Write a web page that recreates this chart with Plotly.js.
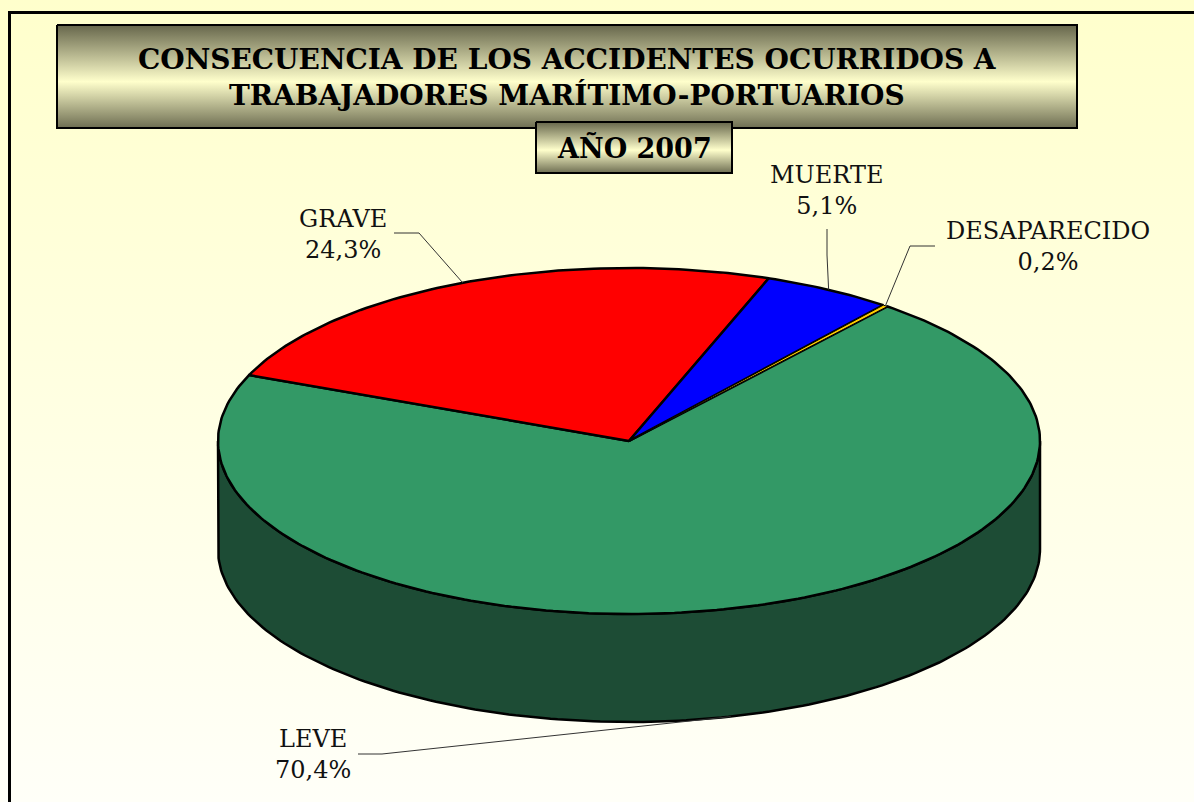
<!DOCTYPE html>
<html lang="es">
<head>
    <meta charset="UTF-8">
    <title>Consecuencia de los accidentes 2007</title>
    <script src="https://cdn.plot.ly/plotly-3.0.1.min.js"></script>
    <style>
        body { margin: 0; background: #ffffff; }
        #chart { width: 1194px; height: 802px; }
    </style>
</head>
<body>
<div id="chart"></div>
<script>
    // data
    const categories = ['GRAVE', 'MUERTE', 'DESAPARECIDO', 'LEVE'];
    const percents = [24.3, 5.1, 0.2, 70.4];
    const percentLabels = ['24,3%', '5,1%', '0,2%', '70,4%'];

    const topColors = ['#FF0000', '#0000FF', '#FFCC00', '#339966'];
    const sideColors = ['#800000', '#000080', '#806600', '#1D4C35'];

    // pie geometry (pixels, y grows downwards)
    const CX = 629, CY = 441, RX = 411, RY = 173, DEPTH = 108;
    const START = 157.6;   // first slice starts here, slices go clockwise

    // label placement: text centre, elbow start, elbow end
    const labelPos = [
        {x: 343, y: 234, ex0: 394, ey0: 233, ex1: 419, ey1: 233},
        {x: 827, y: 190, ex0: 827, ey0: 229, ex1: 827, ey1: 255},
        {x: 1048, y: 246, ex0: 935, ey0: 246, ex1: 910, ey1: 246},
        {x: 313, y: 754, ex0: 358, ey0: 754, ex1: 382, ey1: 754}
    ];

    const rad = d => d * Math.PI / 180;
    function pt(t, dy) {
        return [CX + RX * Math.cos(rad(t)), CY - RY * Math.sin(rad(t)) + (dy || 0)];
    }
    function arc(from, to, dy) {
        const pts = [];
        const n = Math.max(2, Math.ceil(Math.abs(from - to)));
        for (let i = 0; i <= n; i++) pts.push(pt(from + (to - from) * i / n, dy));
        return pts;
    }

    const traces = [];

    // background
    traces.push({
        x: [0, 1194, 1194, 0, 0], y: [0, 0, 802, 802, 0],
        mode: 'lines', line: {width: 0}, fill: 'toself',
        fillgradient: {type: 'vertical', colorscale: [[0, '#FFFFF8'], [1, '#FFFFCC']]},
        hoverinfo: 'skip', showlegend: false
    });

    function box(x0, x1, y0, y1) {
        return {
            x: [x0, x1, x1, x0, x0], y: [y0, y0, y1, y1, y0],
            mode: 'lines', line: {color: '#000000', width: 2}, fill: 'toself',
            fillgradient: {type: 'vertical', colorscale: [[0, '#6E6E52'], [0.45, '#FFFFCC'], [1, '#66664B']]},
            hoverinfo: 'skip', showlegend: false
        };
    }
    traces.push(box(57, 1077, 25, 128));
    traces.push(box(536, 732, 122, 173));

    // slice angles
    const slices = [];
    let a = START;
    percents.forEach((p, i) => {
        const a1 = a, a2 = a - p / 100 * 360;
        slices.push({a1: a1, a2: a2, mid: (a1 + a2) / 2});
        a = a2;
    });

    // side walls (only the front half is visible)
    slices.forEach((s, i) => {
        for (let k = -1; k <= 1; k++) {
            const hi = Math.min(s.a1 + k * 360, 0);
            const lo = Math.max(s.a2 + k * 360, -180);
            if (hi <= lo) continue;
            const pts = arc(hi, lo, 0).concat(arc(lo, hi, DEPTH));
            pts.push(pts[0]);
            traces.push({
                x: pts.map(p => p[0]), y: pts.map(p => p[1]),
                mode: 'lines', fill: 'toself', fillcolor: sideColors[i],
                line: {color: '#000000', width: 2.5}, hoverinfo: 'skip', showlegend: false
            });
        }
    });

    // top faces, thin slices drawn last with a finer outline so the colour shows
    const order = slices.map((s, i) => i).sort((i, j) => percents[j] - percents[i]);
    order.forEach(i => {
        const s = slices[i];
        const pts = [[CX, CY]].concat(arc(s.a1, s.a2, 0));
        pts.push([CX, CY]);
        traces.push({
            x: pts.map(p => p[0]), y: pts.map(p => p[1]),
            mode: 'lines', fill: 'toself', fillcolor: topColors[i],
            line: {color: '#000000', width: percents[i] < 1 ? 1 : 2.5},
            hoverinfo: 'skip', showlegend: false
        });
    });

    // leader lines
    slices.forEach((s, i) => {
        const L = labelPos[i];
        const front = Math.sin(rad(s.mid)) < 0;
        const end = pt(s.mid, front ? DEPTH : 0);
        traces.push({
            x: [L.ex0, L.ex1, end[0]], y: [L.ey0, L.ey1, end[1]],
            mode: 'lines', line: {color: '#333333', width: 1},
            hoverinfo: 'skip', showlegend: false
        });
    });

    const annotations = categories.map((c, i) => ({
        x: labelPos[i].x, y: labelPos[i].y, xref: 'x', yref: 'y',
        text: c + '<br>' + percentLabels[i], showarrow: false,
        xanchor: 'center', yanchor: 'middle', align: 'center',
        font: {family: 'DejaVu Serif', size: 24, color: '#111111'}
    }));
    annotations.push({
        x: 567, y: 77, xref: 'x', yref: 'y', showarrow: false,
        text: '<b>CONSECUENCIA DE LOS ACCIDENTES OCURRIDOS A<br>TRABAJADORES MARÍTIMO-PORTUARIOS</b>',
        align: 'center', xanchor: 'center', yanchor: 'middle',
        font: {family: 'DejaVu Serif', size: 28, color: '#000000'}
    });
    annotations.push({
        x: 634, y: 148, xref: 'x', yref: 'y', showarrow: false,
        text: '<b>AÑO 2007</b>', xanchor: 'center', yanchor: 'middle',
        font: {family: 'DejaVu Serif', size: 27, color: '#000000'}
    });

    const layout = {
        width: 1194, height: 802,
        margin: {l: 0, r: 0, t: 0, b: 0},
        paper_bgcolor: '#FFFFE6', plot_bgcolor: 'rgba(0,0,0,0)',
        xaxis: {range: [0, 1194], visible: false, fixedrange: true},
        yaxis: {range: [802, 0], visible: false, fixedrange: true},
        showlegend: false, hovermode: false,
        annotations: annotations,
        shapes: [
            {type: 'line', xref: 'x', yref: 'y', x0: 9.5, x1: 9.5, y0: 11, y1: 802, line: {color: '#000', width: 3}},
            {type: 'line', xref: 'x', yref: 'y', x0: 8, x1: 1194, y0: 12.5, y1: 12.5, line: {color: '#000', width: 3}}
        ]
    };

    Plotly.newPlot('chart', traces, layout, {displayModeBar: false, staticPlot: true});
</script>
</body>
</html>
